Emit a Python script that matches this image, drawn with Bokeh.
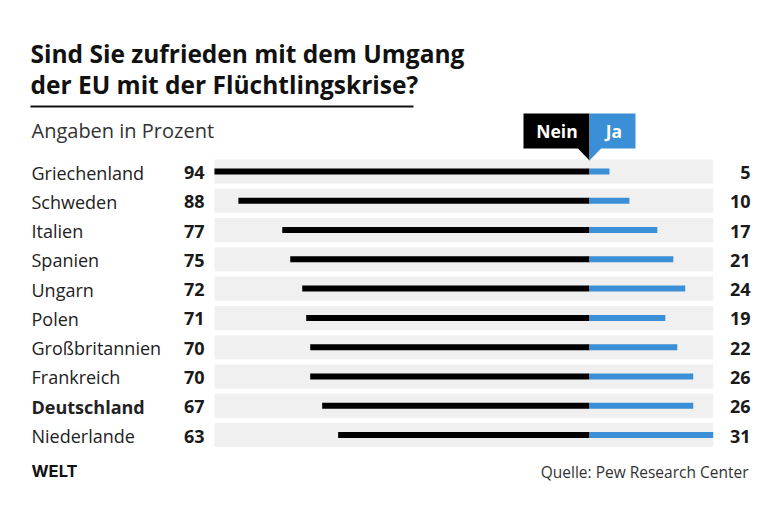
from bokeh.plotting import figure
from bokeh.models import Range1d
from bokeh.core.properties import value
from bokeh.embed import file_html
from bokeh.resources import INLINE

countries = ["Griechenland", "Schweden", "Italien", "Spanien", "Ungarn", "Polen",
             "Großbritannien", "Frankreich", "Deutschland", "Niederlande"]
nein = [94, 88, 77, 75, 72, 71, 70, 70, 67, 63]
ja = [5, 10, 17, 21, 24, 19, 22, 26, 26, 31]
bold_country = "Deutschland"

title_lines = ["Sind Sie zufrieden mit dem Umgang", "der EU mit der Flüchtlingskrise?"]
subtitle = "Angaben in Prozent"
source = "Quelle: Pew Research Center"
logo = "WELT"

W, H = 772, 512
CX = 589          # px of zero line
S = 3.99          # px per percentage point
FONT = "Open Sans"
BLACK = "#000000"
BLUE = "#3a8fd6"
GREY = "#f0f0f0"
TXT = "#1a1a1a"

p = figure(width=W, height=H, output_backend="svg", toolbar_location=None,
           x_range=Range1d(0, W), y_range=Range1d(H, 0), min_border=0,
           x_axis_type=None, y_axis_type=None)
p.extra_x_ranges = {"val": Range1d(-CX / S, (W - CX) / S)}
p.outline_line_color = None
p.grid.visible = False
p.background_fill_color = "white"
p.border_fill_color = "white"

row_y = [171 + i * 29.28 for i in range(len(countries))]
lab_y = [y + 1 for y in row_y]

# bands
p.hbar(y=row_y, left=-max(nein), right=max(ja), height=24, fill_color=GREY,
       line_color=None, x_range_name="val")
# bars
p.hbar(y=row_y, left=[-v for v in nein], right=0, height=6, fill_color=BLACK,
       line_color=None, x_range_name="val")
p.hbar(y=row_y, left=0, right=ja, height=6, fill_color=BLUE,
       line_color=None, x_range_name="val")

# country labels
for c, y in zip(countries, lab_y):
    p.text(x=[31], y=[y], text=[c], text_font=value(FONT), text_font_size="18px",
           text_baseline="middle", text_color="#222222",
           text_font_style="bold" if c == bold_country else "normal")
p.text(x=[204] * len(nein), y=lab_y, text=[str(v) for v in nein], text_font=value(FONT),
       text_font_size="18px", text_font_style="bold", text_align="right",
       text_baseline="middle", text_color=TXT)
p.text(x=[750] * len(ja), y=lab_y, text=[str(v) for v in ja], text_font=value(FONT),
       text_font_size="18px", text_font_style="bold", text_align="right",
       text_baseline="middle", text_color=TXT)

# title
p.text(x=[30, 30], y=[52.5, 84], text=title_lines, text_font=value(FONT),
       text_font_size="24.5px", text_font_style="bold", text_baseline="middle",
       text_color="#111111")
p.segment(x0=[30], y0=[106], x1=[413], y1=[106], line_color="#111111", line_width=2)
p.text(x=[31], y=[129.5], text=[subtitle], text_font=value(FONT), text_font_size="20px",
       text_baseline="middle", text_color="#333333")

# legend boxes
p.quad(left=[523], right=[CX], top=[113], bottom=[148], fill_color=BLACK, line_color=None)
p.quad(left=[CX], right=[635], top=[113], bottom=[148], fill_color=BLUE, line_color=None)
p.patch(x=[577, CX, CX], y=[147.5, 147.5, 160], fill_color=BLACK, line_color=None)
p.patch(x=[CX, 601, CX], y=[147.5, 147.5, 160], fill_color=BLUE, line_color=None)
p.text(x=[556.5], y=[130], text=["Nein"], text_font=value(FONT), text_font_size="17.5px",
       text_font_style="bold", text_align="center", text_baseline="middle", text_color="white")
p.text(x=[613.5], y=[130], text=["Ja"], text_font=value(FONT), text_font_size="17.5px",
       text_font_style="bold", text_align="center", text_baseline="middle", text_color="white")

# footer
p.text(x=[31], y=[470.5], text=[logo], text_font=value("Inter"), text_font_size="16.5px",
       text_font_style="bold", text_baseline="middle", text_color="#111111")
p.text(x=[748], y=[471], text=[source], text_font=value(FONT), text_font_size="15.5px",
       text_align="right", text_baseline="middle", text_color="#333333")

open("out.html", "w").write(file_html(p, INLINE))
